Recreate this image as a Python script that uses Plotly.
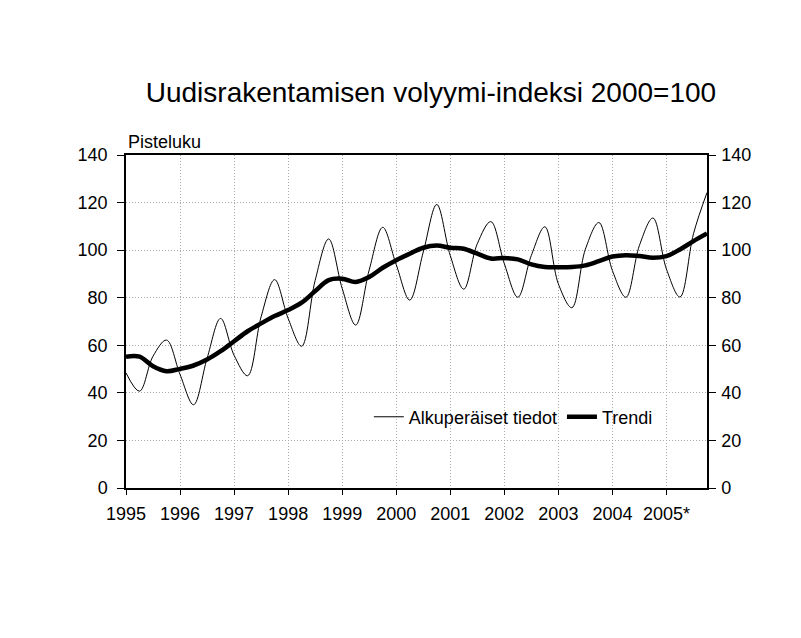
import plotly.graph_objects as go
import pandas as pd

# Quarterly periods 1995Q1 .. 2005Q4
quarters = pd.period_range("1995Q1", "2005Q4", freq="Q")
x_vals = [q.year + (q.quarter - 1) / 4 for q in quarters]

# Alkuperäiset tiedot (original series)
original = [
    48.4, 40.7, 55.4, 62.2,
    47.7, 35.0, 54.5, 71.3,
    55.8, 47.2, 72.0, 87.6,
    71.3, 59.6, 87.3, 104.7,
    83.9, 68.5, 91.7, 109.6,
    93.9, 79.0, 99.2, 119.2,
    97.7, 83.6, 102.7, 112.0,
    94.3, 80.2, 97.8, 109.8,
    85.8, 75.8, 100.4, 111.6,
    91.4, 80.2, 102.0, 113.5,
    92.0, 80.3, 106.9, 124.2,
]

# Trendi (trend series)
trend = [
    55.2, 55.2, 51.2, 49.1,
    50.1, 51.5, 54.0, 57.5,
    61.7, 65.9, 69.2, 72.3,
    74.8, 77.9, 82.8, 87.4,
    88.0, 86.6, 88.7, 92.6,
    95.8, 98.5, 101.0, 101.9,
    101.0, 100.6, 98.5, 96.5,
    96.7, 96.1, 94.0, 92.9,
    92.8, 92.9, 93.6, 95.4,
    97.3, 97.9, 97.5, 96.8,
    97.5, 100.3, 103.8, 107.0,
]

year_ticks = list(range(1995, 2006))
year_labels = [str(y) for y in range(1995, 2005)] + ["2005*"]
y_ticks = list(range(0, 141, 20))

FONT = "Liberation Sans, Arial, sans-serif"
GRID = "#a8a8a8"
GRIDDASH = "1px,2px"

fig = go.Figure()
fig.add_trace(go.Scatter(
    x=x_vals, y=original, mode="lines", name="Alkuperäiset tiedot",
    line=dict(color="black", width=1, shape="spline", smoothing=1.0),
))
fig.add_trace(go.Scatter(
    x=x_vals, y=trend, mode="lines", name="Trendi",
    line=dict(color="black", width=4.5, shape="spline", smoothing=1.0),
))
# invisible trace to show the right-hand axis
fig.add_trace(go.Scatter(
    x=x_vals, y=trend, yaxis="y2", mode="lines", showlegend=False,
    line=dict(color="rgba(0,0,0,0)", width=0), hoverinfo="skip",
))

fig.update_layout(
    width=801, height=638, autosize=False,
    paper_bgcolor="white", plot_bgcolor="white",
    margin=dict(l=126, r=94, t=155, b=150),
    font=dict(family=FONT, color="black", size=18),
    title=dict(
        text="Uudisrakentamisen volyymi-indeksi 2000=100",
        font=dict(family=FONT, size=28, color="black"),
        x=0.538, xanchor="center", y=1 - 92 / 638, yanchor="middle",
    ),
    xaxis=dict(
        range=[1995, 2005.75], tickvals=year_ticks, ticktext=year_labels,
        showgrid=True, gridcolor=GRID, griddash=GRIDDASH, gridwidth=1,
        showline=True, linecolor="black", linewidth=1.5, mirror=True,
        ticks="outside", ticklen=5, tickcolor="black",
        tickfont=dict(size=18), zeroline=False, ticklabelstandoff=4,
    ),
    yaxis=dict(
        range=[0, 140], tickvals=y_ticks,
        showgrid=True, gridcolor=GRID, griddash=GRIDDASH, gridwidth=1,
        showline=True, linecolor="black", linewidth=1.5,
        ticks="outside", ticklen=7, tickcolor="black",
        tickfont=dict(size=18), zeroline=False, ticklabelstandoff=6,
    ),
    yaxis2=dict(
        range=[0, 140], tickvals=y_ticks, overlaying="y", side="right",
        showgrid=False, showline=True, linecolor="black", linewidth=1.5,
        ticks="outside", ticklen=7, tickcolor="black",
        tickfont=dict(size=18), zeroline=False, ticklabelstandoff=2,
    ),
    legend=dict(
        orientation="h", x=0.418, xanchor="left", y=0.213, yanchor="middle",
        bgcolor="rgba(0,0,0,0)", font=dict(family=FONT, size=18, color="black"),
        itemwidth=30, tracegroupgap=0,
    ),
    annotations=[dict(
        text="Pisteluku", xref="paper", yref="paper", x=0, y=1,
        xanchor="left", yanchor="bottom", showarrow=False,
        font=dict(family=FONT, size=18, color="black"), yshift=1,
    )],
)

fig.write_html("out.html", config={"displayModeBar": False},
               post_script="document.body.style.margin='0';")
